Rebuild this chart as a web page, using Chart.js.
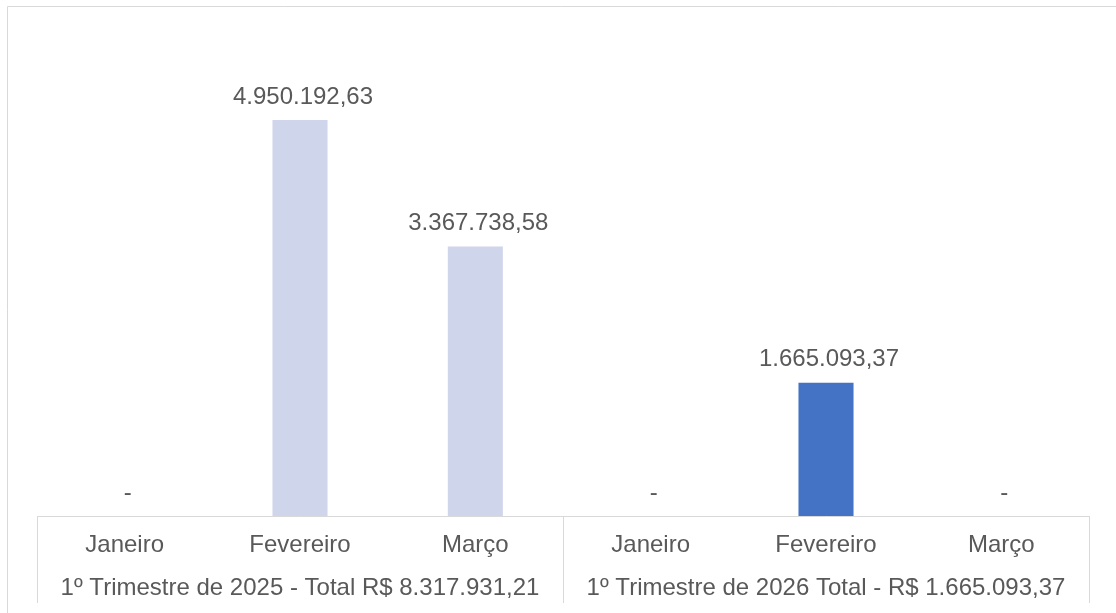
<!DOCTYPE html>
<html>
<head>
<meta charset="utf-8">
<script src="https://cdn.jsdelivr.net/npm/chart.js@4"></script>
<style>
html,body{margin:0;padding:0;background:#fff;overflow:hidden;}
canvas{display:block;}
</style>
</head>
<body>
<canvas id="c" width="1116" height="613"></canvas>
<script>
const categories = ['Janeiro', 'Fevereiro', 'Março', 'Janeiro', 'Fevereiro', 'Março'];
const groupLabels = ['1º Trimestre de 2025 - Total R$ 8.317.931,21', '1º Trimestre de 2026 Total - R$ 1.665.093,37'];
const values = [0, 4950192.63, 3367738.58, 0, 1665093.37, 0];
const barColors = ['#CFD5EA', '#CFD5EA', '#CFD5EA', '#4472C4', '#4472C4', '#4472C4'];
const yMax = 6000000;

const FONT = '"Liberation Sans", Arial, sans-serif';
const FSIZE = 24;
const TEXT = '#595959';
const LINE = '#D9D9D9';

function fmtBR(v) {
  if (v === 0) return '-';
  const parts = v.toFixed(2).split('.');
  const intPart = parts[0].replace(/\B(?=(\d{3})+(?!\d))/g, '.');
  return intPart + ',' + parts[1];
}

const decor = {
  id: 'decor',
  beforeDraw(chart) {
    const ctx = chart.ctx;
    ctx.save();
    ctx.strokeStyle = LINE;
    ctx.lineWidth = 1;
    ctx.beginPath();
    ctx.moveTo(7.5, chart.height);
    ctx.lineTo(7.5, 6.5);
    ctx.lineTo(chart.width, 6.5);
    ctx.stroke();
    ctx.restore();
  },
  afterDraw(chart) {
    const ctx = chart.ctx;
    const x = chart.scales.x;
    const a = chart.chartArea;
    const mid = (x.getPixelForValue(2) + x.getPixelForValue(3)) / 2;
    const bottom = chart.height - 10;
    ctx.save();
    ctx.strokeStyle = LINE;
    ctx.lineWidth = 1;
    ctx.beginPath();
    [a.left, mid, a.right].forEach(px => {
      const p = Math.round(px) + 0.5;
      ctx.moveTo(p, a.bottom);
      ctx.lineTo(p, bottom);
    });
    ctx.stroke();
    ctx.restore();
  },
  afterDatasetsDraw(chart) {
    const ctx = chart.ctx;
    const meta = chart.getDatasetMeta(0);
    ctx.save();
    ctx.font = FSIZE + 'px ' + FONT;
    ctx.fillStyle = TEXT;
    ctx.textAlign = 'center';
    ctx.textBaseline = 'middle';
    meta.data.forEach((el, i) => {
      ctx.fillText(fmtBR(values[i]), el.x + 3, el.y - 23);
    });
    ctx.restore();
  }
};

new Chart(document.getElementById('c'), {
  type: 'bar',
  data: {
    labels: categories,
    datasets: [{
      data: values,
      backgroundColor: barColors,
      borderWidth: 0,
      categoryPercentage: 1,
      barPercentage: 0.314
    }]
  },
  options: {
    responsive: false,
    animation: false,
    layout: { padding: { left: 37, right: 27, top: 36, bottom: 0 } },
    plugins: { legend: { display: false }, tooltip: { enabled: false }, title: { display: false } },
    scales: {
      y: { display: false, min: 0, max: yMax },
      x: {
        position: 'bottom',
        weight: 1,
        grid: { display: false, drawTicks: false },
        border: { display: true, color: LINE, width: 1 },
        ticks: { color: TEXT, font: { family: FONT, size: FSIZE }, padding: 14.5, maxRotation: 0, autoSkip: false },
        afterFit(scale) { scale.height = 58; }
      },
      x2: {
        type: 'category',
        position: 'bottom',
        weight: 2,
        labels: groupLabels,
        offset: true,
        grid: { display: false, drawTicks: false },
        border: { display: false },
        ticks: { color: TEXT, font: { family: FONT, size: FSIZE }, padding: 0, maxRotation: 0, autoSkip: false },
        afterFit(scale) { scale.height = 39; }
      }
    }
  },
  plugins: [decor]
});
</script>
</body>
</html>
